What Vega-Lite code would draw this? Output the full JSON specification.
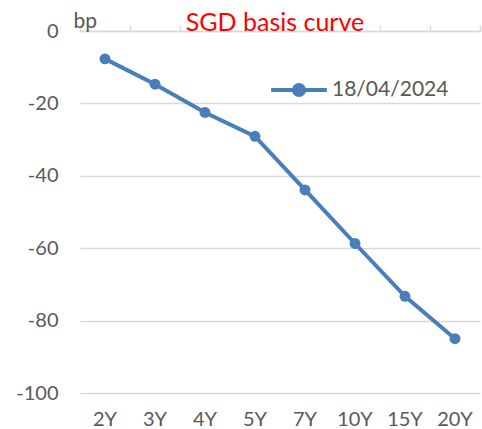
{
  "$schema": "https://vega.github.io/schema/vega-lite/v6.json",
  "width": 400,
  "height": 362,
  "autosize": {"type": "none"},
  "padding": {"left": 80, "top": 31, "right": 2, "bottom": 36},
  "background": "white",
  "config": {
    "view": {"stroke": null},
    "font": "Lato"
  },
  "title": {
    "text": "SGD basis curve",
    "color": "#FF0000",
    "fontSize": 25,
    "fontWeight": "normal",
    "font": "Lato",
    "anchor": "middle",
    "baseline": "alphabetic",
    "offset": 0,
    "dx": -5,
    "dy": 46
  },
  "data": {
    "values": [
      {"tenor": "2Y", "bp": -7.7, "date": "18/04/2024"},
      {"tenor": "3Y", "bp": -14.7, "date": "18/04/2024"},
      {"tenor": "4Y", "bp": -22.5, "date": "18/04/2024"},
      {"tenor": "5Y", "bp": -29.1, "date": "18/04/2024"},
      {"tenor": "7Y", "bp": -43.9, "date": "18/04/2024"},
      {"tenor": "10Y", "bp": -58.7, "date": "18/04/2024"},
      {"tenor": "15Y", "bp": -73.3, "date": "18/04/2024"},
      {"tenor": "20Y", "bp": -85, "date": "18/04/2024"}
    ]
  },
  "encoding": {
    "y": {
      "field": "bp",
      "type": "quantitative",
      "scale": {"domain": [-100, 0], "nice": false, "zero": false},
      "axis": {
        "title": "bp",
        "titleAngle": 0,
        "titleAlign": "left",
        "titleBaseline": "alphabetic",
        "titleX": -7,
        "titleY": -4,
        "titleFontSize": 21,
        "titleFontWeight": "normal",
        "titleColor": "#595959",
        "values": [0, -20, -40, -60, -80, -100],
        "labelExpr": "replace(datum.label, '\u2212', '-')",
        "domain": false,
        "ticks": false,
        "labelPadding": 22,
        "labelFontSize": 20,
        "labelColor": "#595959",
        "gridColor": "#d9d9d9",
        "gridWidth": 1.5
      }
    },
    "color": {
      "field": "date",
      "type": "nominal",
      "scale": {"range": ["#4A7EBB"]},
      "legend": {
        "title": null,
        "orient": "none",
        "legendX": 189,
        "legendY": 29,
        "symbolType": "M-1,0L1,0M-0.18,0A0.18,0.18 0 1,0 0.18,0A0.18,0.18 0 1,0 -0.18,0Z",
        "symbolSize": 3100,
        "symbolStrokeWidth": 4,
        "symbolFillColor": "#4A7EBB",
        "symbolStrokeColor": "#4A7EBB",
        "labelFontSize": 21,
        "labelColor": "#595959",
        "labelOffset": 3
      }
    }
  },
  "layer": [
    {
      "mark": {"type": "line", "strokeWidth": 4, "color": "#4A7EBB"},
      "encoding": {
        "x": {
          "field": "tenor",
          "type": "nominal",
          "sort": ["2Y", "3Y", "4Y", "5Y", "7Y", "10Y", "15Y", "20Y"],
          "scale": {"type": "band", "paddingInner": 0, "paddingOuter": 0},
          "axis": {
            "orient": "bottom",
            "title": null,
            "domain": false,
            "ticks": false,
            "labelAngle": 0,
            "labelPadding": 16,
            "labelFontSize": 20,
            "labelColor": "#595959"
          }
        }
      }
    },
    {
      "mark": {"type": "point", "filled": true, "size": 120, "opacity": 1, "color": "#4A7EBB"},
      "encoding": {
        "x": {
          "field": "tenor",
          "type": "nominal",
          "sort": ["2Y", "3Y", "4Y", "5Y", "7Y", "10Y", "15Y", "20Y"],
          "scale": {"type": "band", "paddingInner": 0, "paddingOuter": 0},
          "axis": {
            "orient": "top",
            "title": null,
            "labels": false,
            "domain": true,
            "domainColor": "#d9d9d9",
            "domainWidth": 1.5,
            "ticks": true,
            "tickBand": "extent",
            "tickColor": "#d9d9d9",
            "tickWidth": 1.5,
            "tickSize": 6,
            "grid": false
          }
        }
      }
    }
  ],
  "resolve": {"axis": {"x": "independent"}}
}
